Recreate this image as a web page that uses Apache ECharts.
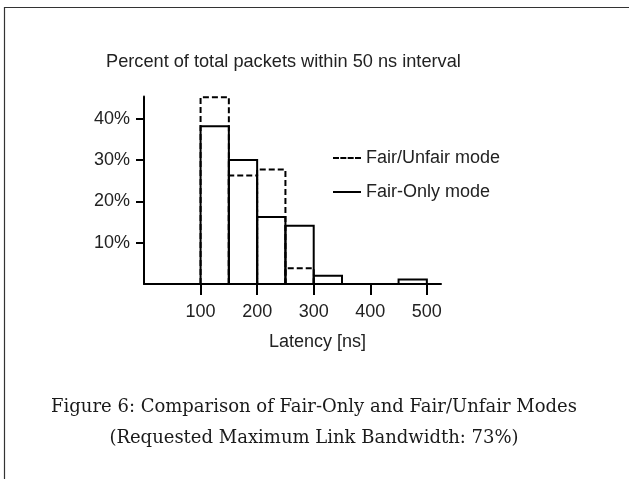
<!DOCTYPE html>
<html>
<head>
<meta charset="utf-8">
<script src="https://cdn.jsdelivr.net/npm/echarts@6/dist/echarts.min.js"></script>
<style>
  html, body { margin: 0; padding: 0; background: #fff; }
  #chart { width: 629px; height: 479px; }
</style>
</head>
<body>
<div id="chart"></div>
<script>
// Latency histogram: 50 ns bins, percent of total packets per bin
const binStarts = [0, 50, 100, 150, 200, 250, 300, 350, 400, 450];
const binWidth = 50;
const fairUnfair = [0, 0, 45.2, 26.3, 27.7, 3.8, 0, 0, 0, 0];
const fairOnly = [0, 0, 38.2, 30.0, 16.2, 14.1, 2.0, 0, 0, 1.1];
const xTicks = [100, 200, 300, 400, 500];
const yTicks = [10, 20, 30, 40];
const seriesNames = ['Fair/Unfair mode', 'Fair-Only mode'];
const captionLines = [
  'Figure 6: Comparison of Fair-Only and Fair/Unfair Modes',
  '(Requested Maximum Link Bandwidth: 73%)'
];

const sans = 'Liberation Sans, Arial, sans-serif';

function binData(values) {
  return binStarts.map((s, i) => [s, s + binWidth, values[i]]);
}

// Each bin drawn as an open outline (left side, top, right side)
function binOutline(dashed) {
  return function (params, api) {
    const x0 = api.value(0), x1 = api.value(1), v = api.value(2);
    const top = api.coord([x0, v]);
    const base = api.coord([x1, 0]);
    return {
      type: 'polyline',
      shape: {
        points: [[top[0], base[1]], [top[0], top[1]], [base[0], top[1]], [base[0], base[1]]]
      },
      style: {
        fill: null,
        stroke: '#000',
        lineWidth: 2,
        lineDash: dashed ? [6, 3] : null
      }
    };
  };
}

const chart = echarts.init(document.getElementById('chart'), null, { renderer: 'canvas' });

chart.setOption({
  animation: false,
  backgroundColor: '#fff',
  color: ['#000', '#000'],
  title: {
    text: 'Percent of total packets within 50 ns interval',
    left: 106,
    top: 53,
    padding: 0,
    textStyle: { fontFamily: sans, fontSize: 18.2, fontWeight: 'normal', color: '#222', lineHeight: 18 }
  },
  legend: {
    orient: 'vertical',
    left: 333,
    top: 149,
    itemWidth: 28,
    itemHeight: 2,
    itemGap: 16,
    padding: 0,
    textStyle: { fontFamily: sans, fontSize: 18, color: '#222', lineHeight: 18 },
    data: [
      { name: seriesNames[0], icon: 'path://M0,0h6v2h-6z M7.33,0h6v2h-6z M14.67,0h6v2h-6z M22,0h6v2h-6z' },
      { name: seriesNames[1], icon: 'rect' }
    ]
  },
  graphic: [
    {
      type: 'polyline',
      shape: { points: [[4.5, 479], [4.5, 7.5], [629, 7.5]] },
      style: { fill: null, stroke: '#333', lineWidth: 1.2 },
      silent: true
    },
    {
      type: 'text',
      x: 314,
      y: 407,
      style: {
        text: captionLines[0],
        align: 'center',
        verticalAlign: 'middle',
        font: '18px "DejaVu Serif", serif',
        fill: '#1a1a1a'
      }
    },
    {
      type: 'text',
      x: 314,
      y: 438,
      style: {
        text: captionLines[1],
        align: 'center',
        verticalAlign: 'middle',
        font: '18px "DejaVu Serif", serif',
        fill: '#1a1a1a'
      }
    }
  ],
  grid: { left: 144, right: 188, top: 96.5, bottom: 195, containLabel: false },
  xAxis: {
    type: 'value',
    min: 0,
    max: 525,
    name: 'Latency [ns]',
    nameLocation: 'middle',
    nameGap: 49,
    nameTextStyle: { fontFamily: sans, fontSize: 18, color: '#222', padding: [0, 0, 0, 50] },
    splitLine: { show: false },
    axisLine: { show: true, lineStyle: { color: '#000', width: 2 } },
    axisTick: { show: true, inside: false, length: 11, customValues: xTicks, lineStyle: { color: '#000', width: 2 } },
    axisLabel: { customValues: xTicks, margin: 19, fontFamily: sans, fontSize: 18, color: '#222', lineHeight: 18 }
  },
  yAxis: {
    type: 'value',
    min: 0,
    max: 45.4,
    splitLine: { show: false },
    axisLine: { show: true, lineStyle: { color: '#000', width: 2 } },
    axisTick: { show: true, inside: false, length: 8, customValues: yTicks, lineStyle: { color: '#000', width: 2 } },
    axisLabel: { customValues: yTicks, margin: 14, formatter: '{value}%', fontFamily: sans, fontSize: 18, color: '#222' }
  },
  series: [
    {
      name: seriesNames[0],
      type: 'custom',
      z: 2,
      renderItem: binOutline(true),
      encode: { x: [0, 1], y: 2 },
      data: binData(fairUnfair)
    },
    {
      name: seriesNames[1],
      type: 'custom',
      z: 3,
      renderItem: binOutline(false),
      encode: { x: [0, 1], y: 2 },
      data: binData(fairOnly)
    }
  ]
});
</script>
</body>
</html>
